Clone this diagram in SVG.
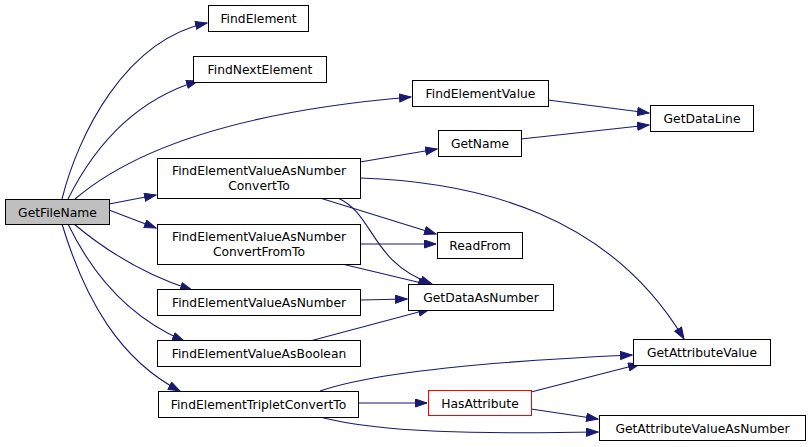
<svg xmlns="http://www.w3.org/2000/svg" width="809" height="447" viewBox="0 0 809 447">
<style>
.n rect{fill:#fff;stroke:#000;stroke-width:1}
.n text{font-family:"DejaVu Sans",sans-serif;font-size:12.3px;fill:#000;text-anchor:middle}
.e path{fill:none;stroke:#191970;stroke-width:1.1}
</style>
<defs>
<marker id="a" markerUnits="userSpaceOnUse" markerWidth="13" markerHeight="10" refX="12" refY="4.5" orient="auto"><path d="M0.5,0.5 L12,4.5 L0.5,8.5 z" fill="#191970" stroke="#191970" stroke-width="1"/></marker>
</defs>
<rect width="809" height="447" fill="#fff"/>
<g class="e">
<path marker-end="url(#a)" d="M62,199 C78,135 125,40 207,23"/>
<path marker-end="url(#a)" d="M68,199 C95,145 135,100 198,81"/>
<path marker-end="url(#a)" d="M75,199 C150,135 280,108 411,97"/>
<path marker-end="url(#a)" d="M109,204 L156,195"/>
<path marker-end="url(#a)" d="M109,210 L156,228"/>
<path marker-end="url(#a)" d="M74,224 C105,250 145,275 192,290"/>
<path marker-end="url(#a)" d="M68,224 C95,280 135,320 184,341"/>
<path marker-end="url(#a)" d="M62,224 C85,300 120,360 180,391"/>
<path marker-end="url(#a)" d="M360,162 L437,149"/>
<path marker-end="url(#a)" d="M360,178 C480,182 610,215 684,339"/>
<path marker-end="url(#a)" d="M320,198 L436,234"/>
<path marker-end="url(#a)" d="M338,198 C375,215 370,262 432,284"/>
<path marker-end="url(#a)" d="M360,244 L436,244"/>
<path marker-end="url(#a)" d="M342,264 L430,285"/>
<path marker-end="url(#a)" d="M360,300 L407,299"/>
<path marker-end="url(#a)" d="M310,341 L430,309"/>
<path marker-end="url(#a)" d="M320,391 C380,370 520,360 632,355"/>
<path marker-end="url(#a)" d="M358,403 L427,403"/>
<path marker-end="url(#a)" d="M320,417 C380,433 480,434 598,432"/>
<path marker-end="url(#a)" d="M531,392 L640,364"/>
<path marker-end="url(#a)" d="M531,409 L598,419"/>
<path marker-end="url(#a)" d="M548,100 L649,113"/>
<path marker-end="url(#a)" d="M521,139 L649,125"/>
</g>
<g id="GetFileName" class="n"><rect x="5.5" y="199.5" width="104" height="25" style="fill:#bfbfbf"/><text x="57.5" y="216.5">GetFileName</text></g>
<g id="FindElement" class="n"><rect x="208.5" y="5.5" width="100" height="26"/><text x="258.5" y="22.5">FindElement</text></g>
<g id="FindNextElement" class="n"><rect x="193.5" y="56.5" width="133" height="26"/><text x="260" y="73.5">FindNextElement</text></g>
<g id="FindElementValue" class="n"><rect x="412.5" y="80.5" width="136" height="26"/><text x="480.5" y="97.5">FindElementValue</text></g>
<g id="GetDataLine" class="n"><rect x="650.5" y="105.5" width="103" height="26"/><text x="702" y="122.5">GetDataLine</text></g>
<g id="GetName" class="n"><rect x="438.5" y="130.5" width="83" height="26"/><text x="480" y="147.5">GetName</text></g>
<g id="FindElementValueAsNumberConvertTo" class="n"><rect x="157.5" y="158.5" width="203" height="40"/><text x="259" y="175">FindElementValueAsNumber</text><text x="259" y="189.5">ConvertTo</text></g>
<g id="FindElementValueAsNumberConvertFromTo" class="n"><rect x="157.5" y="224.5" width="203" height="40"/><text x="259" y="241">FindElementValueAsNumber</text><text x="259" y="255.5">ConvertFromTo</text></g>
<g id="ReadFrom" class="n"><rect x="437.5" y="232.5" width="85" height="26"/><text x="480" y="249.5">ReadFrom</text></g>
<g id="GetDataAsNumber" class="n"><rect x="408.5" y="284.5" width="145" height="26"/><text x="481" y="301.5">GetDataAsNumber</text></g>
<g id="FindElementValueAsNumber" class="n"><rect x="157.5" y="289.5" width="203" height="26"/><text x="259" y="306.5">FindElementValueAsNumber</text></g>
<g id="FindElementValueAsBoolean" class="n"><rect x="157.5" y="340.5" width="203" height="26"/><text x="259" y="357.5">FindElementValueAsBoolean</text></g>
<g id="FindElementTripletConvertTo" class="n"><rect x="158.5" y="391.5" width="200" height="26"/><text x="258.5" y="408.5">FindElementTripletConvertTo</text></g>
<g id="HasAttribute" class="n"><rect x="428.5" y="390.5" width="103" height="25" style="stroke:#ff0000"/><text x="480" y="407.5">HasAttribute</text></g>
<g id="GetAttributeValue" class="n"><rect x="633.5" y="339.5" width="137" height="26"/><text x="702" y="356.5">GetAttributeValue</text></g>
<g id="GetAttributeValueAsNumber" class="n"><rect x="599.5" y="415.5" width="206" height="25"/><text x="702.5" y="432.5">GetAttributeValueAsNumber</text></g>
</svg>
